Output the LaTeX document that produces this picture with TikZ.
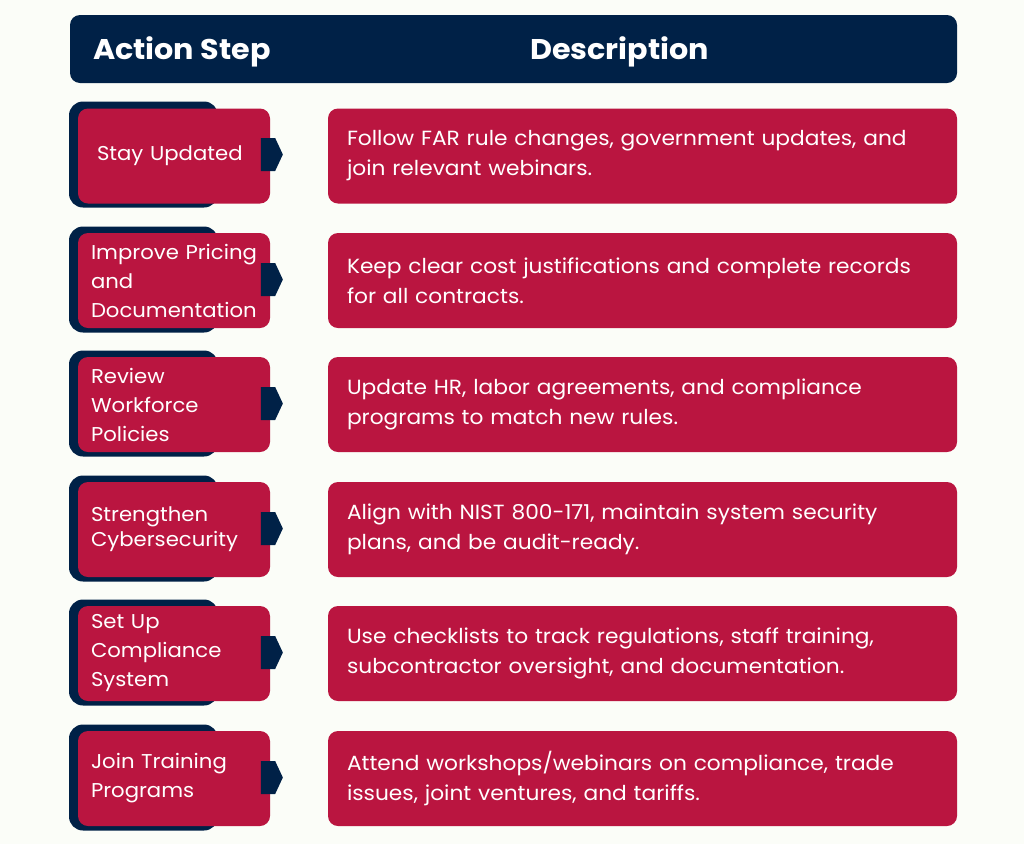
\documentclass[tikz,border=0pt]{standalone}
\usepackage{fontspec}
\setmainfont{Poppins}[FakeStretch=1.06]
\usetikzlibrary{shapes.symbols}
\definecolor{navy}{HTML}{002147}
\definecolor{crimson}{HTML}{BA1540}
\definecolor{paper}{HTML}{FBFDF8}
\begin{document}
\begin{tikzpicture}[x=1pt, y=-1pt,
  every node/.style={inner sep=0pt, outer sep=0pt},
  headbar/.style={fill=navy, rounded corners=10pt, minimum width=887pt, minimum height=68pt},
  headtext/.style={text=white, font=\fontsize{28.5}{32}\selectfont\bfseries},
  backbox/.style={fill=navy, rounded corners=14pt, minimum width=149pt, minimum height=106pt},
  stepbox/.style={fill=crimson, rounded corners=10pt, minimum width=192pt, minimum height=95pt,
    text=white, align=left, text width=166pt, inner xsep=13pt, font=\fontsize{20}{29}\selectfont},
  steptip/.style={signal, signal to=east, signal pointer angle=130, fill=navy,
    minimum width=22pt, minimum height=33pt},
  descbox/.style={fill=crimson, rounded corners=10pt, minimum width=629pt, minimum height=95pt,
    text=white, align=left, text width=591pt, inner xsep=19pt, font=\fontsize{20.5}{30}\selectfont}
  ]
	\fill[paper] (0,0) rectangle (1024,844);

	\node[headbar] (head) at (513.5,49) {};
	\node[headtext, anchor=west] (h1) at (93,52) {Action Step};
	\node[headtext] (h2) at (619.5,52) {Description};

	\node[backbox] (b1) at (143.5,154.5) {};
	\node[stepbox] (s1) at (174,156) {\hspace*{6pt}Stay Updated};
	\node[steptip] (t1) at (268,154.5) {};
	\node[descbox] (d1) at (642.5,156) {Follow FAR rule changes, government updates, and\\join relevant webinars.};

	\node[backbox] (b2) at (143.5,279.5) {};
	\node[stepbox] (s2) at (174,280.5) {Improve Pricing\\and\\Documentation};
	\node[steptip] (t2) at (268,279.5) {};
	\node[descbox] (d2) at (642.5,280.5) {Keep clear cost justifications and complete records\\for all contracts.};

	\node[backbox] (b3) at (143.5,403.5) {};
	\node[stepbox] (s3) at (174,404.5) {Review\\Workforce\\Policies};
	\node[steptip] (t3) at (268,403.5) {};
	\node[descbox] (d3) at (642.5,404.5) {Update HR, labor agreements, and compliance\\programs to match new rules.};

	\node[backbox] (b4) at (143.5,528.5) {};
	\node[stepbox, font=\fontsize{20}{25}\selectfont] (s4) at (174,529.5) {Strengthen\\Cybersecurity};
	\node[steptip] (t4) at (268,528.5) {};
	\node[descbox] (d4) at (642.5,529.5) {Align with NIST 800-171, maintain system security\\plans, and be audit-ready.};

	\node[backbox] (b5) at (143.5,652.5) {};
	\node[stepbox] (s5) at (174,653.5) {Set Up\\Compliance\\System};
	\node[steptip] (t5) at (268,652.5) {};
	\node[descbox] (d5) at (642.5,653.5) {Use checklists to track regulations, staff training,\\subcontractor oversight, and documentation.};

	\node[backbox] (b6) at (143.5,777.5) {};
	\node[stepbox] (s6) at (174,778.5) {Join Training\\Programs};
	\node[steptip] (t6) at (268,777.5) {};
	\node[descbox] (d6) at (642.5,778.5) {Attend workshops/webinars on compliance, trade\\issues, joint ventures, and tariffs.};
\end{tikzpicture}
\end{document}
